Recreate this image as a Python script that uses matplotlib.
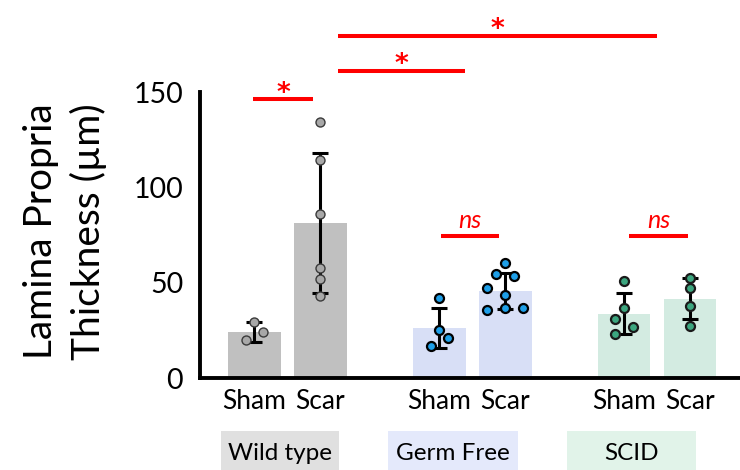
import numpy as np
import matplotlib.pyplot as plt
import matplotlib.transforms as mtransforms
from matplotlib.patches import Rectangle

plt.rcParams['font.family'] = ['Lato', 'DejaVu Sans']

# groups / conditions
groups = ['Wild type', 'Germ Free', 'SCID']
conditions = ['Sham', 'Scar']

# bar heights (mean) and error (SD), order: WT sham, WT scar, GF sham, GF scar, SCID sham, SCID scar
means = [24.2, 81.6, 26.3, 45.8, 33.7, 41.6]
sds = [5.2, 36.9, 10.7, 9.5, 10.8, 10.8]

# individual animals
pts_wt_sham = [29.5, 24.2, 20.0]
pts_wt_scar = [134.7, 114.7, 86.3, 57.9, 52.1, 43.2]
pts_gf_sham = [42.1, 25.3, 21.0, 16.8]
pts_gf_scar = [60.5, 54.7, 53.7, 47.4, 43.7, 35.8, 36.8, 36.8]
pts_scid_sham = [51.0, 36.8, 31.0, 26.8, 23.2]
pts_scid_scar = [52.6, 47.4, 37.9, 27.4]
points = [pts_wt_sham, pts_wt_scar, pts_gf_sham, pts_gf_scar, pts_scid_sham, pts_scid_scar]

# horizontal spread of the dots within each bar
jitter = [
    [0, 0.13, -0.13],
    [0, 0, 0, 0, 0, 0],
    [0, 0, 0.14, -0.13],
    [0, -0.14, 0.14, -0.27, 0, -0.27, 0, 0.27],
    [0, 0, -0.14, 0.14, -0.14],
    [0, 0, 0, 0],
]

# significance brackets: (x start, x end, y, label)
sig_bars = [
    (-0.02, 0.89, 146.8, '*'),
    (1.27, 3.19, 161.6, '*'),
    (1.27, 6.10, 180.0, '*'),
    (2.82, 3.71, 74.7, 'ns'),
    (5.67, 6.57, 74.7, 'ns'),
]

bar_colors = ['#c0c0c0', '#d8dff6', '#d3ebe1']
box_colors = ['#e0e0e0', '#e4e9fb', '#e1f3e9']
dot_colors = ['#a8a8a8', '#1e9fe8', '#3ca67f']
dot_edges = ['#3a3a3a', 'black', '#1a1a1a']
box_spans = [(-0.51, 1.28), (2.02, 3.99), (4.73, 6.69)]

group_gap = 2.8
x = np.array([g * group_gap + c for g in range(len(groups)) for c in range(len(conditions))])

fig = plt.figure(figsize=(7.4, 4.7), dpi=100)
ax = fig.add_axes([0.27, 0.1957, 0.73, 0.8043])

for i in range(len(x)):
    g = i // 2
    ax.bar(x[i], means[i], width=0.8, color=bar_colors[g], zorder=1)
    ax.errorbar(x[i], means[i], yerr=sds[i], fmt='none', ecolor='black',
                elinewidth=2.2, capsize=5.5, capthick=2.2, zorder=2)
    ax.scatter(x[i] + np.array(jitter[i]), points[i], s=42, color=dot_colors[g],
               edgecolors=dot_edges[g], linewidths=1.6 if g else 1.0, zorder=3)

for x0, x1, y, lab in sig_bars:
    ax.plot([x0, x1], [y, y], color='#ff0000', lw=2.9, solid_capstyle='butt',
            clip_on=False)
    if lab == '*':
        # asterisk glyph sits high in the em box, so anchor on the baseline
        ax.text((x0 + x1) / 2, y - 0.8, lab, color='#ff0000', fontsize=19,
                fontweight='bold', ha='center', va='baseline', family='DejaVu Sans')
    else:
        ax.text((x0 + x1) / 2, y + 2.0, lab, color='#ff0000', fontsize=18,
                style='italic', ha='center', va='bottom')

ax.set_xlim(-0.826, 7.356)
ax.set_ylim(0, 198.9)
ax.spines['top'].set_visible(False)
ax.spines['right'].set_visible(False)
ax.spines['left'].set_bounds(0, 150.5)
for s in ['left', 'bottom']:
    ax.spines[s].set_linewidth(2.8)

ax.set_yticks([0, 50, 100, 150])
ax.tick_params(axis='y', length=0, pad=12, labelsize=20.5)
ax.set_xticks(x)
ax.set_xticklabels(conditions * len(groups))
ax.tick_params(axis='x', length=0, pad=8, labelsize=19)

# group name boxes under the axis
trans = mtransforms.blended_transform_factory(ax.transData, fig.transFigure)
for (b0, b1), name, col in zip(box_spans, groups, box_colors):
    ax.add_patch(Rectangle((b0, 0.0), b1 - b0, 0.083, transform=trans,
                           facecolor=col, edgecolor='none', clip_on=False))
    ax.text((b0 + b1) / 2, 0.036, name, transform=trans, ha='center',
            va='center', fontsize=17.5)

fig.text(0.088, 0.508, 'Lamina Propria\nThickness (\u00b5m)', rotation=90,
         ha='center', va='center', fontsize=28, linespacing=1.38,
         multialignment='center')

fig.savefig('out.png', dpi=100)
